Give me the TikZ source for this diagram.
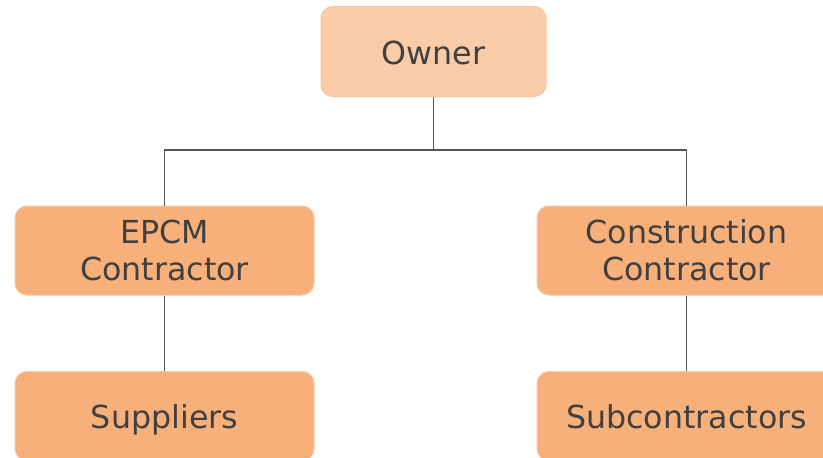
\documentclass[tikz,border=0pt]{standalone}
\usepackage{fontspec}
\setmainfont{DejaVu Sans}
\definecolor{ownerfill}{HTML}{FACBA7}
\definecolor{boxfill}{HTML}{F8B07A}
\definecolor{boxedge}{HTML}{F9C4A0}
\definecolor{txt}{HTML}{404040}
\definecolor{wire}{HTML}{555555}
\tikzset{
  orgbox/.style={draw=boxedge, line width=1pt, fill=boxfill, rounded corners=12pt,
    text=txt, align=center, inner sep=0pt,
    font=\fontsize{31.7}{37}\selectfont},
  oneline/.style={text height=25pt, text depth=0pt},
  wirestyle/.style={draw=wire, line width=1.8pt}
}
\begin{document}
\begin{tikzpicture}[x=1pt,y=-1pt]
\useasboundingbox (0,0) rectangle (823,458);
% boxes given by their corners
\node[orgbox, oneline, fill=ownerfill, minimum width=225pt, minimum height=90pt] (owner) at (433.5,51.5) {Owner};
\node[orgbox, minimum width=299pt, minimum height=89pt] (epcm) at (164.5,250.5) {EPCM\\Contractor};
\node[orgbox, minimum width=299pt, minimum height=89pt] (cons) at (686.5,250.5) {Construction\\Contractor};
\node[orgbox, oneline, minimum width=299pt, minimum height=89pt] (supp) at (164.5,416) {Suppliers};
\node[orgbox, oneline, minimum width=299pt, minimum height=89pt] (subc) at (686.5,416) {Subcontractors};
\coordinate (split) at (433.5,150);
% connectors
\draw[wirestyle] (owner.south) -- (split);
\draw[wirestyle] (split) -| (epcm.north);
\draw[wirestyle] (split) -| (cons.north);
\draw[wirestyle] (epcm.south) -- (supp.north);
\draw[wirestyle] (cons.south) -- (subc.north);
\end{tikzpicture}
\end{document}
